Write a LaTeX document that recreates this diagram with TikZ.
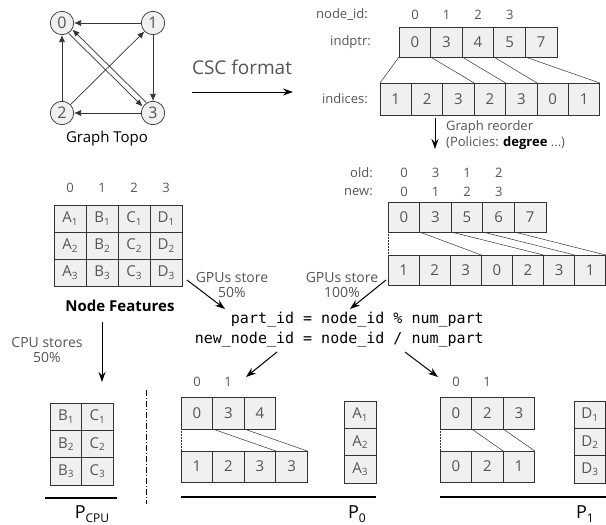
\documentclass[tikz,border=0pt]{standalone}
\usepackage{fontspec}
\setmainfont{Open Sans}
\setmonofont{DejaVu Sans Mono}
\usetikzlibrary{arrows.meta,calc}
\definecolor{cellfill}{HTML}{F0F0F0}
\definecolor{txt}{HTML}{555555}
\definecolor{ln}{HTML}{333333}
\tikzset{
  cell/.style={draw=ln, fill=cellfill, line width=0.8pt, inner sep=0pt, outer sep=0pt,
    text=txt, font=\fontsize{15}{15}\selectfont, anchor=north west},
  lbl/.style={text=txt, font=\fontsize{13}{13}\selectfont, inner sep=0pt},
  numlbl/.style={text=txt, font=\fontsize{13}{13}\selectfont, inner sep=0pt},
  blk/.style={text=black, font=\fontsize{15}{15}\selectfont, inner sep=0pt},
  vtx/.style={circle, draw=ln, fill=cellfill, minimum size=23.4pt, inner sep=0pt,
    text=txt, font=\fontsize{16}{16}\selectfont, line width=0.7pt},
  edge/.style={draw=ln, line width=0.7pt, -{Latex[length=7pt,width=6pt]}},
  bigarrow/.style={line width=1pt, -{Stealth[length=10pt,width=7pt]}},
  link/.style={draw=ln, line width=0.5pt},
  dotlink/.style={draw=ln, line width=0.5pt, densely dotted},
  baseline/.style={line width=1.2pt},
  codeline/.style={font=\ttfamily\fontsize{15}{15}\selectfont, inner sep=0pt, anchor=east}
}
\newcommand{\sbs}[1]{\raisebox{-2.5pt}{\fontsize{10}{10}\selectfont #1}}
\begin{document}
\begin{tikzpicture}[x=1pt,y=-1pt]
\useasboundingbox (0,0) rectangle (606,525);

% ---------- Graph topology ----------
\node[vtx] (c0) at (62,23) {0};
\node[vtx] (c1) at (153,23) {1};
\node[vtx] (c2) at (62,113) {2};
\node[vtx] (c3) at (153,113) {3};
\draw[edge] (c1) -- (c0);
\draw[edge] (c1) -- (c3);
\draw[edge] (c3) -- (c2);
\draw[edge] (c2) -- (c0);
\draw[edge] (c2) -- (c1);
\draw[edge, transform canvas={shift={(-1.9,1.9)}}] (c0) -- (c3);
\draw[edge, transform canvas={shift={(1.9,-1.9)}}] (c3) -- (c0);
\node[blk] (gtopo) at (107,139) {Graph Topo};

% ---------- CSC arrow ----------
\node[text=txt, font=\fontsize{19}{19}\selectfont, inner sep=0pt] (cscl) at (242,67) {CSC format};
\coordinate (csca) at (192,92);
\coordinate (cscb) at (293,92);
\draw[bigarrow] (csca) -- (cscb);

% ---------- CSC arrays ----------
\node[lbl, anchor=east] (nidl) at (368,15) {node\_id:};
\foreach \v [count=\i from 0] in {0,1,2,3}
  \node[numlbl] (nid\i) at ({415+\i*31.6},15) {\v};
\node[lbl, anchor=east] (ipl) at (371,42) {indptr:};
\foreach \v [count=\i from 0] in {0,3,4,5,7}
  \node[cell, minimum width=31.6pt, minimum height=30pt] (ip\i) at ({399+\i*31.6},27) {\v};
\node[lbl, anchor=east] (ixl) at (368,99) {indices:};
\foreach \v [count=\i from 0] in {1,2,3,2,3,0,1}
  \node[cell, minimum width=31.4pt, minimum height=32pt] (ix\i) at ({380+\i*31.4},83) {\v};
\draw[link] (ip0.south west) -- (ix0.north west);
\draw[link] (ip1.south west) -- (ix2.north east);
\draw[link] (ip2.south west) -- (ix3.north east);
\draw[link] (ip3.south west) -- (ix4.north east);
\draw[link] (ip4.south west) -- (ix6.north east);

% ---------- Graph reorder ----------
\coordinate (ra) at (435,118);
\coordinate (rb) at (435,149);
\draw[bigarrow] (ra) -- (rb);
\node[lbl, anchor=west] (gr1) at (446,127) {Graph reorder};
\node[lbl, anchor=west] (gr2) at (446,143) {(Policies: {\bfseries\color{black}degree} ...)};

% ---------- Reordered arrays ----------
\node[lbl, anchor=east] (oldl) at (373,173) {old:};
\node[lbl, anchor=east] (newl) at (373,192) {new:};
\foreach \v [count=\i from 0] in {0,3,1,2}
  \node[numlbl] (old\i) at ({404+\i*31.6},173) {\v};
\foreach \v [count=\i from 0] in {0,1,2,3}
  \node[numlbl] (new\i) at ({404+\i*31.6},192) {\v};
\foreach \v [count=\i from 0] in {0,3,5,6,7}
  \node[cell, minimum width=31.6pt, minimum height=30pt] (rp\i) at ({388+\i*31.6},202) {\v};
\foreach \v [count=\i from 0] in {1,2,3,0,2,3,1}
  \node[cell, minimum width=31.1pt, minimum height=30pt] (ri\i) at ({388+\i*31.1},255) {\v};
\draw[dotlink] (rp0.south west) -- (ri0.north west);
\draw[link] (rp1.south west) -- (ri2.north east);
\draw[link] (rp2.south west) -- (ri4.north east);
\draw[link] (rp3.south west) -- (ri5.north east);
\draw[link] (rp4.south west) -- (ri6.north east);

% ---------- Node features ----------
\foreach \v [count=\i from 0] in {0,1,2,3}
  \node[numlbl] (fl\i) at ({70+\i*32},188) {\v};
\foreach \L [count=\c from 0] in {A,B,C,D}
  \foreach \r in {1,2,3}
    \node[cell, minimum width=32pt, minimum height=27pt] (f\L\r) at ({54+\c*32},{205+(\r-1)*27}) {\L\sbs{\r}};
\node[text=black, font=\fontsize{15}{15}\selectfont\bfseries, inner sep=0pt] (nfeat) at (120,306) {Node Features};

% ---------- GPU store labels ----------
\node[lbl, align=center, font=\fontsize{14}{15}\selectfont] (g50) at (232,285) {GPUs store\\50\%};
\node[lbl, align=center, font=\fontsize{14}{15}\selectfont] (g100) at (342,285) {GPUs store\\100\%};
\coordinate (g50a) at (187,280);
\coordinate (g50b) at (225,309);
\coordinate (g100a) at (386,280);
\coordinate (g100b) at (350,309);
\draw[bigarrow] (g50a) -- (g50b);
\draw[bigarrow] (g100a) -- (g100b);

% ---------- Code ----------
\node[codeline] (code1) at (484,320) {part\_id = node\_id \% num\_part};
\node[codeline] (code2) at (484,340) {new\_node\_id = node\_id / num\_part};

% ---------- CPU store ----------
\node[lbl, align=center, font=\fontsize{14}{15}\selectfont] (cpu) at (47,350) {CPU stores\\50\%};
\coordinate (cpua) at (102,322);
\coordinate (cpub) at (102,382);
\draw[bigarrow] (cpua) -- (cpub);

% ---------- P_CPU ----------
\foreach \L [count=\c from 0] in {B,C}
  \foreach \r in {1,2,3}
    \node[cell, minimum width=31.5pt, minimum height=27.3pt] (pc\L\r) at ({50+\c*31.5},{403+(\r-1)*27.3}) {\L\sbs{\r}};
\coordinate (pcl1) at (45,498);
\coordinate (pcl2) at (117,498);
\draw[baseline] (pcl1) -- (pcl2);
\node[text=black, font=\fontsize{18}{18}\selectfont, inner sep=0pt] (pcpu) at (92,514) {P\raisebox{-4pt}{\fontsize{12}{12}\selectfont CPU}};

\coordinate (dd1) at (146,390);
\coordinate (dd2) at (146,504);
\draw[line width=0.8pt, dash pattern=on 6pt off 2pt on 1pt off 2pt] (dd1) -- (dd2);

% ---------- Arrows to partitions ----------
\coordinate (pa0) at (277,352);
\coordinate (pb0) at (246,377);
\coordinate (pa1) at (405,352);
\coordinate (pb1) at (438,377);
\draw[bigarrow] (pa0) -- (pb0);
\draw[bigarrow] (pa1) -- (pb1);

% ---------- P0 ----------
\node[numlbl] (p0l0) at (197,382) {0};
\node[numlbl] (p0l1) at (228,382) {1};
\foreach \v [count=\i from 0] in {0,3,4}
  \node[cell, minimum width=31.6pt, minimum height=32pt] (p0p\i) at ({181+\i*31.6},397) {\v};
\foreach \v [count=\i from 0] in {1,2,3,3}
  \node[cell, minimum width=31.6pt, minimum height=31pt] (p0i\i) at ({181+\i*31.6},451) {\v};
\draw[dotlink] (p0p0.south west) -- (p0i0.north west);
\draw[link] (p0p1.south west) -- (p0i2.north east);
\draw[link] (p0p2.south west) -- (p0i3.north east);
\foreach \r in {1,2,3}
  \node[cell, minimum width=32pt, minimum height=27.3pt] (pA\r) at (344,{401+(\r-1)*27.3}) {A\sbs{\r}};
\coordinate (p0l1a) at (181,497);
\coordinate (p0l1b) at (376,497);
\draw[baseline] (p0l1a) -- (p0l1b);
\node[text=black, font=\fontsize{18}{18}\selectfont, inner sep=0pt] (p0lab) at (357,514) {P\raisebox{-4pt}{\fontsize{12}{12}\selectfont 0}};

% ---------- P1 ----------
\node[numlbl] (p1l0) at (456,382) {0};
\node[numlbl] (p1l1) at (487,382) {1};
\foreach \v [count=\i from 0] in {0,2,3}
  \node[cell, minimum width=31.6pt, minimum height=32pt] (p1p\i) at ({440+\i*31.6},397) {\v};
\foreach \v [count=\i from 0] in {0,2,1}
  \node[cell, minimum width=31.6pt, minimum height=31pt] (p1i\i) at ({440+\i*31.6},451) {\v};
\draw[dotlink] (p1p0.south west) -- (p1i0.north west);
\draw[link] (p1p1.south west) -- (p1i1.north east);
\draw[link] (p1p2.south west) -- (p1i2.north east);
\foreach \r in {1,2,3}
  \node[cell, minimum width=31.5pt, minimum height=27.3pt] (pD\r) at (574,{401+(\r-1)*27.3}) {D\sbs{\r}};
\coordinate (p1l1a) at (440,497);
\coordinate (p1l1b) at (606,497);
\draw[baseline] (p1l1a) -- (p1l1b);
\node[text=black, font=\fontsize{18}{18}\selectfont, inner sep=0pt] (p1lab) at (585,514) {P\raisebox{-4pt}{\fontsize{12}{12}\selectfont 1}};
\end{tikzpicture}
\end{document}
